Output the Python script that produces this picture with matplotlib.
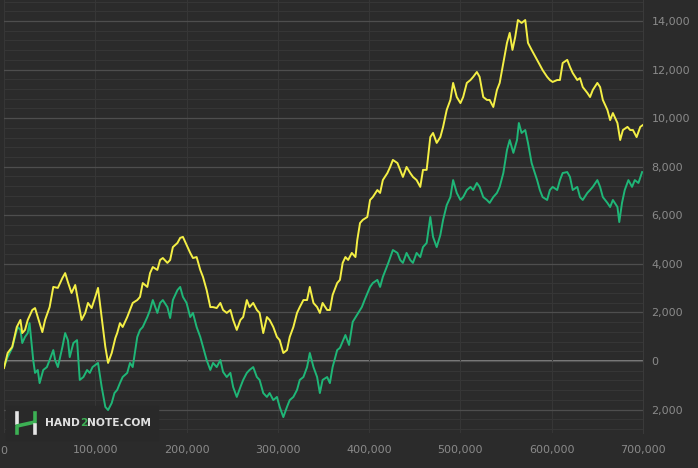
import numpy as np
import matplotlib
matplotlib.use("Agg")
import matplotlib.pyplot as plt
from matplotlib.ticker import MultipleLocator, FuncFormatter

# hands played (thousands) and winnings for the yellow line
yellow_hands = [0, 4, 9, 14, 18, 20, 23, 26, 31, 34, 37, 42, 45, 50, 54, 59, 64, 67, 70, 74,
                78, 81, 85, 89, 92, 96, 100, 103, 107, 111, 114, 118, 122, 124, 127, 130, 135, 138, 141, 146,
                149, 152, 157, 160, 163, 168, 171, 174, 179, 182, 185, 190, 193, 196, 200, 204, 207, 211, 215, 218,
                222, 226, 229, 233, 237, 240, 244, 248, 251, 255, 259, 262, 266, 269, 273, 277, 280, 284, 288, 291,
                295, 299, 302, 306, 310, 313, 317, 321, 324, 328, 332, 335, 339, 343, 346, 349, 354, 357, 360, 365,
                368, 371, 374, 377, 381, 385, 387, 390, 393, 398, 401, 404, 409, 412, 415, 420, 423, 426, 431, 434,
                437, 441, 445, 448, 452, 456, 459, 463, 467, 470, 474, 478, 481, 485, 489, 492, 496, 500, 503, 507,
                511, 514, 518, 521, 525, 529, 532, 536, 540, 543, 547, 551, 554, 557, 560, 563, 567, 571, 574, 578,
                584, 587, 590, 595, 598, 601, 606, 609, 612, 617, 620, 623, 628, 631, 634, 639, 642, 645, 650, 653,
                656, 661, 664, 667, 672, 675, 678, 683, 686, 689, 693, 697, 700]
yellow_won = [-290, 330, 580, 1400, 1690, 1150, 1280, 1690, 2100, 2180, 1810, 1190, 1690, 2220, 3050, 3010, 3420, 3620, 3250, 2800,
              3130, 2510, 1690, 1980, 2390, 2180, 2640, 3010, 1810, 580, -80, 330, 950, 1150, 1560, 1400, 1810, 2100, 2390, 2510,
              2640, 3210, 3050, 3620, 3870, 3750, 4160, 4240, 4040, 4160, 4690, 4860, 5070, 5110, 4780, 4450, 4240, 4280, 3750, 3460,
              2920, 2220, 2220, 2180, 2390, 2100, 1980, 2100, 1690, 1280, 1690, 1810, 2510, 2220, 2390, 2100, 1980, 1150, 1810, 1690,
              1400, 990, 860, 330, 450, 990, 1400, 1980, 2220, 2510, 2510, 3050, 2390, 2220, 1980, 2390, 2100, 2100, 2720, 3210,
              3340, 4040, 4280, 4160, 4450, 4280, 4980, 5680, 5810, 5930, 6630, 6750, 7040, 6920, 7450, 7740, 7990, 8280, 8150, 7870,
              7580, 7990, 7740, 7580, 7450, 7170, 7870, 7870, 9220, 9390, 8980, 9220, 9640, 10340, 10750, 11450, 10870, 10620, 10870, 11450,
              11570, 11700, 11900, 11700, 10870, 10750, 10750, 10460, 11160, 11450, 12270, 13100, 13510, 12810, 13340, 14040, 13920, 14040, 13100, 12810,
              12400, 12190, 11980, 11700, 11570, 11490, 11570, 11570, 12270, 12400, 12110, 11860, 11570, 11650, 11280, 11040, 10870, 11160, 11450, 11280,
              10750, 10340, 9920, 10210, 9800, 9100, 9510, 9640, 9510, 9510, 9220, 9640, 9720]

# hands played (thousands) and winnings for the green line
green_hands = [0, 4, 9, 12, 15, 18, 20, 23, 26, 28, 31, 32, 34, 37, 39, 43, 47, 50, 54, 56,
               59, 64, 67, 70, 72, 76, 80, 83, 87, 91, 94, 97, 103, 107, 111, 114, 118, 121, 124, 127,
               130, 135, 138, 141, 146, 149, 152, 157, 160, 163, 168, 171, 174, 179, 182, 185, 190, 193, 196, 200,
               204, 207, 211, 215, 218, 222, 226, 229, 233, 237, 240, 244, 248, 251, 255, 259, 262, 266, 269, 273,
               277, 280, 284, 288, 291, 295, 299, 302, 306, 310, 313, 317, 321, 324, 328, 332, 335, 339, 343, 346,
               349, 354, 357, 360, 365, 368, 374, 378, 382, 388, 392, 395, 401, 404, 409, 412, 415, 421, 426, 431,
               434, 437, 441, 445, 448, 452, 456, 459, 463, 467, 470, 474, 478, 481, 485, 489, 492, 496, 500, 503,
               507, 511, 514, 518, 521, 525, 529, 532, 536, 540, 543, 547, 551, 554, 558, 562, 564, 567, 571, 574,
               578, 584, 587, 590, 595, 598, 601, 606, 609, 612, 617, 620, 623, 628, 631, 634, 639, 642, 645, 650,
               653, 656, 661, 664, 667, 672, 674, 677, 680, 684, 688, 691, 695, 699]
green_won = [-250, 160, 540, 990, 1400, 1280, 740, 990, 1150, 1560, 450, 40, -490, -370, -910, -370, -250, 40, 450, 40,
             -250, 580, 1150, 860, 160, 740, 860, -780, -660, -370, -490, -250, -80, -1070, -1890, -2020, -1730, -1320, -1190, -910,
             -660, -490, -80, -250, 990, 1280, 1400, 1810, 2100, 2510, 1980, 2390, 2510, 2220, 1770, 2510, 2920, 3050, 2640, 2390,
             1810, 1980, 1400, 990, 580, 40, -370, -80, -250, 40, -450, -660, -490, -1070, -1480, -1070, -780, -490, -370, -250,
             -660, -780, -1320, -1480, -1320, -1610, -1480, -1890, -2310, -1890, -1610, -1480, -1190, -780, -660, -250, 330, -250, -660, -1320,
             -780, -660, -910, -250, 450, 540, 1070, 660, 1610, 1980, 2220, 2510, 3050, 3210, 3340, 3050, 3460, 4040, 4570, 4450,
             4160, 4040, 4450, 4160, 4040, 4450, 4280, 4690, 4860, 5930, 5110, 4690, 5190, 5810, 6420, 6750, 7450, 6920, 6630, 6750,
             7040, 7170, 7040, 7330, 7170, 6750, 6630, 6510, 6750, 6920, 7170, 7740, 8690, 9100, 8570, 9100, 9800, 9390, 9510, 8980,
             8150, 7450, 7040, 6750, 6630, 7040, 7170, 7040, 7450, 7740, 7780, 7580, 7040, 7170, 6750, 6630, 6920, 7040, 7170, 7450,
             7170, 6750, 6510, 6340, 6630, 6340, 5720, 6510, 7040, 7450, 7170, 7450, 7330, 7780]

bg = "#2b2b2b"
yellow = "#f4ef45"
green = "#1fb677"
tick_color = "#8a8a8a"

fig = plt.figure(figsize=(6.98, 4.68), dpi=100, facecolor=bg)
ax = fig.add_axes([4 / 698, 35 / 468, 639 / 698, 433 / 468])
ax.set_facecolor(bg)

ax.plot(np.array(green_hands) * 1000, green_won, color=green, lw=1.4, zorder=3)
ax.plot(np.array(yellow_hands) * 1000, yellow_won, color=yellow, lw=1.4, zorder=4)

ax.set_xlim(0, 700000)
ax.set_ylim(-2965, 14865)

ax.xaxis.set_major_locator(MultipleLocator(100000))
ax.yaxis.set_major_locator(MultipleLocator(2000))
ax.yaxis.set_minor_locator(MultipleLocator(400))
ax.xaxis.set_major_formatter(FuncFormatter(lambda v, p: f"{int(v):,}"))
ax.yaxis.set_major_formatter(FuncFormatter(lambda v, p: f"{abs(int(v)):,}"))

ax.yaxis.tick_right()
ax.tick_params(axis="both", which="both", length=0, colors=tick_color, labelsize=8)
ax.tick_params(axis="y", pad=6)
ax.tick_params(axis="x", pad=9)

ax.grid(axis="y", which="major", color="#4e4e4e", lw=0.9, zorder=0)
ax.grid(axis="y", which="minor", color="#363636", lw=0.8, zorder=0)
ax.grid(axis="x", which="major", color="#363636", lw=0.8, zorder=0)
ax.axhline(0, color="#8f8f8f", lw=1.2, zorder=1)

for s in ax.spines.values():
    s.set_visible(False)
ax.spines["right"].set_visible(True)
ax.spines["right"].set_color("#3a3a3a")

# hand2note logo (box sits above the grid but under the lines)
ax.add_patch(plt.Rectangle((6 / 698, 28 / 468), 152 / 698, 34 / 468, transform=fig.transFigure,
                           color="#292929", zorder=2, clip_on=False))
lw_logo = 2.6
fig.add_artist(plt.Line2D([17 / 698, 17 / 698], [45 / 468, 55 / 468], color="#e6e6e6", lw=lw_logo,
                          transform=fig.transFigure, zorder=6))
fig.add_artist(plt.Line2D([17 / 698, 17 / 698, 35 / 698, 35 / 698], [35 / 468, 42 / 468, 46 / 468, 55 / 468],
                          color="#3cb054", lw=lw_logo, transform=fig.transFigure, zorder=6))
fig.add_artist(plt.Line2D([35 / 698, 35 / 698], [35 / 468, 43 / 468], color="#e6e6e6", lw=lw_logo,
                          transform=fig.transFigure, zorder=6))

renderer = fig.canvas.get_renderer()
x0 = 45 / 698
for part, col in [("HAND", "#e0e0e0"), ("2", "#3cb054"), ("NOTE.COM", "#e0e0e0")]:
    t = fig.text(x0, 45 / 468, part, color=col, fontsize=7.7, fontweight="bold", va="center", zorder=7)
    bb = t.get_window_extent(renderer)
    x0 = bb.x1 / fig.bbox.width

plt.savefig("out.png", dpi=100, facecolor=bg)
